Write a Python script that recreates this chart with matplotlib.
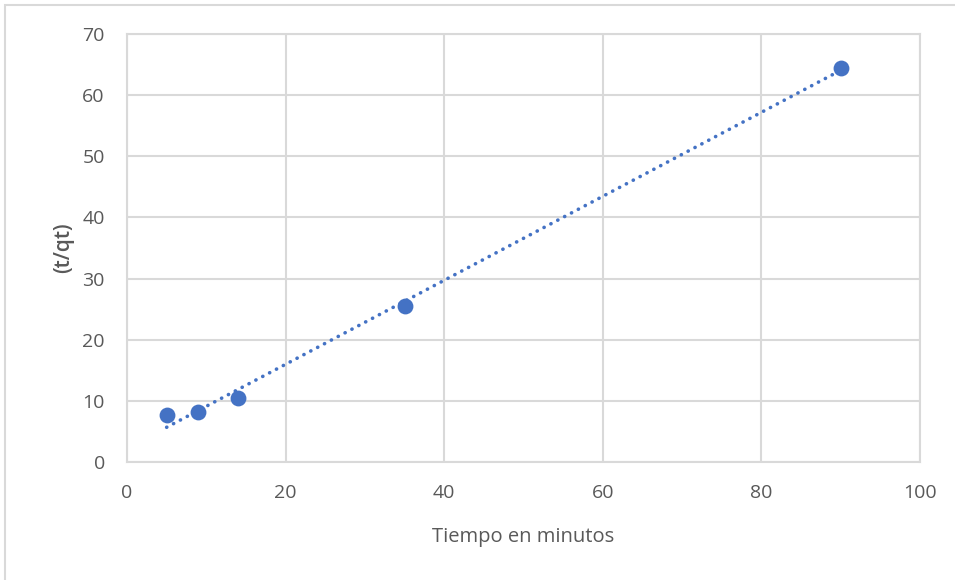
import numpy as np
import matplotlib.pyplot as plt
from matplotlib.patches import Rectangle

# Datos: tiempo (min) y t/qt
tiempo = [5, 9, 14, 35, 90]
t_qt = [7.7, 8.2, 10.4, 25.5, 64.5]

x_ticks = [0, 20, 40, 60, 80, 100]
y_ticks = [0, 10, 20, 30, 40, 50, 60, 70]

plt.rcParams['font.family'] = ['Open Sans', 'DejaVu Sans']

azul = '#4472c4'
gris = '#d9d9d9'
texto = '#595959'

fig = plt.figure(figsize=(9.55, 5.8), dpi=100)
ax = fig.add_axes([127 / 955, 1 - 462 / 580, 793 / 955, 428 / 580])

# borde del area del grafico
fig.patches.append(Rectangle((5 / 955, -0.1), 1.2, 1 - 5 / 580 + 0.1,
                             transform=fig.transFigure, fill=False,
                             edgecolor=gris, linewidth=1.5))

# recta de tendencia lineal
m, b = np.polyfit(tiempo, t_qt, 1)
xs = np.array([min(tiempo), max(tiempo)])
ax.plot(xs, m * xs + b, color=azul, linewidth=2.6, linestyle=(0, (0.05, 2.1)),
        dash_capstyle='round', zorder=2)

ax.scatter(tiempo, t_qt, s=130, color=azul, zorder=3, linewidths=0)

ax.set_xlim(0, 100)
ax.set_ylim(0, 70)
ax.set_xticks(x_ticks)
ax.set_yticks(y_ticks)
ax.grid(True, color=gris, linewidth=1.5)
ax.set_axisbelow(True)
for s in ax.spines.values():
    s.set_color(gris)
    s.set_linewidth(1.5)
ax.tick_params(length=0, labelsize=14, labelcolor=texto)
ax.tick_params(axis='x', pad=16)
ax.tick_params(axis='y', pad=16)

ax.set_xlabel('Tiempo en minutos', fontsize=14.5, color=texto, labelpad=18)
ax.set_ylabel('(t/qt)', fontsize=15, color=texto, labelpad=6,
              fontweight='semibold')

fig.savefig('out.png', dpi=100)
